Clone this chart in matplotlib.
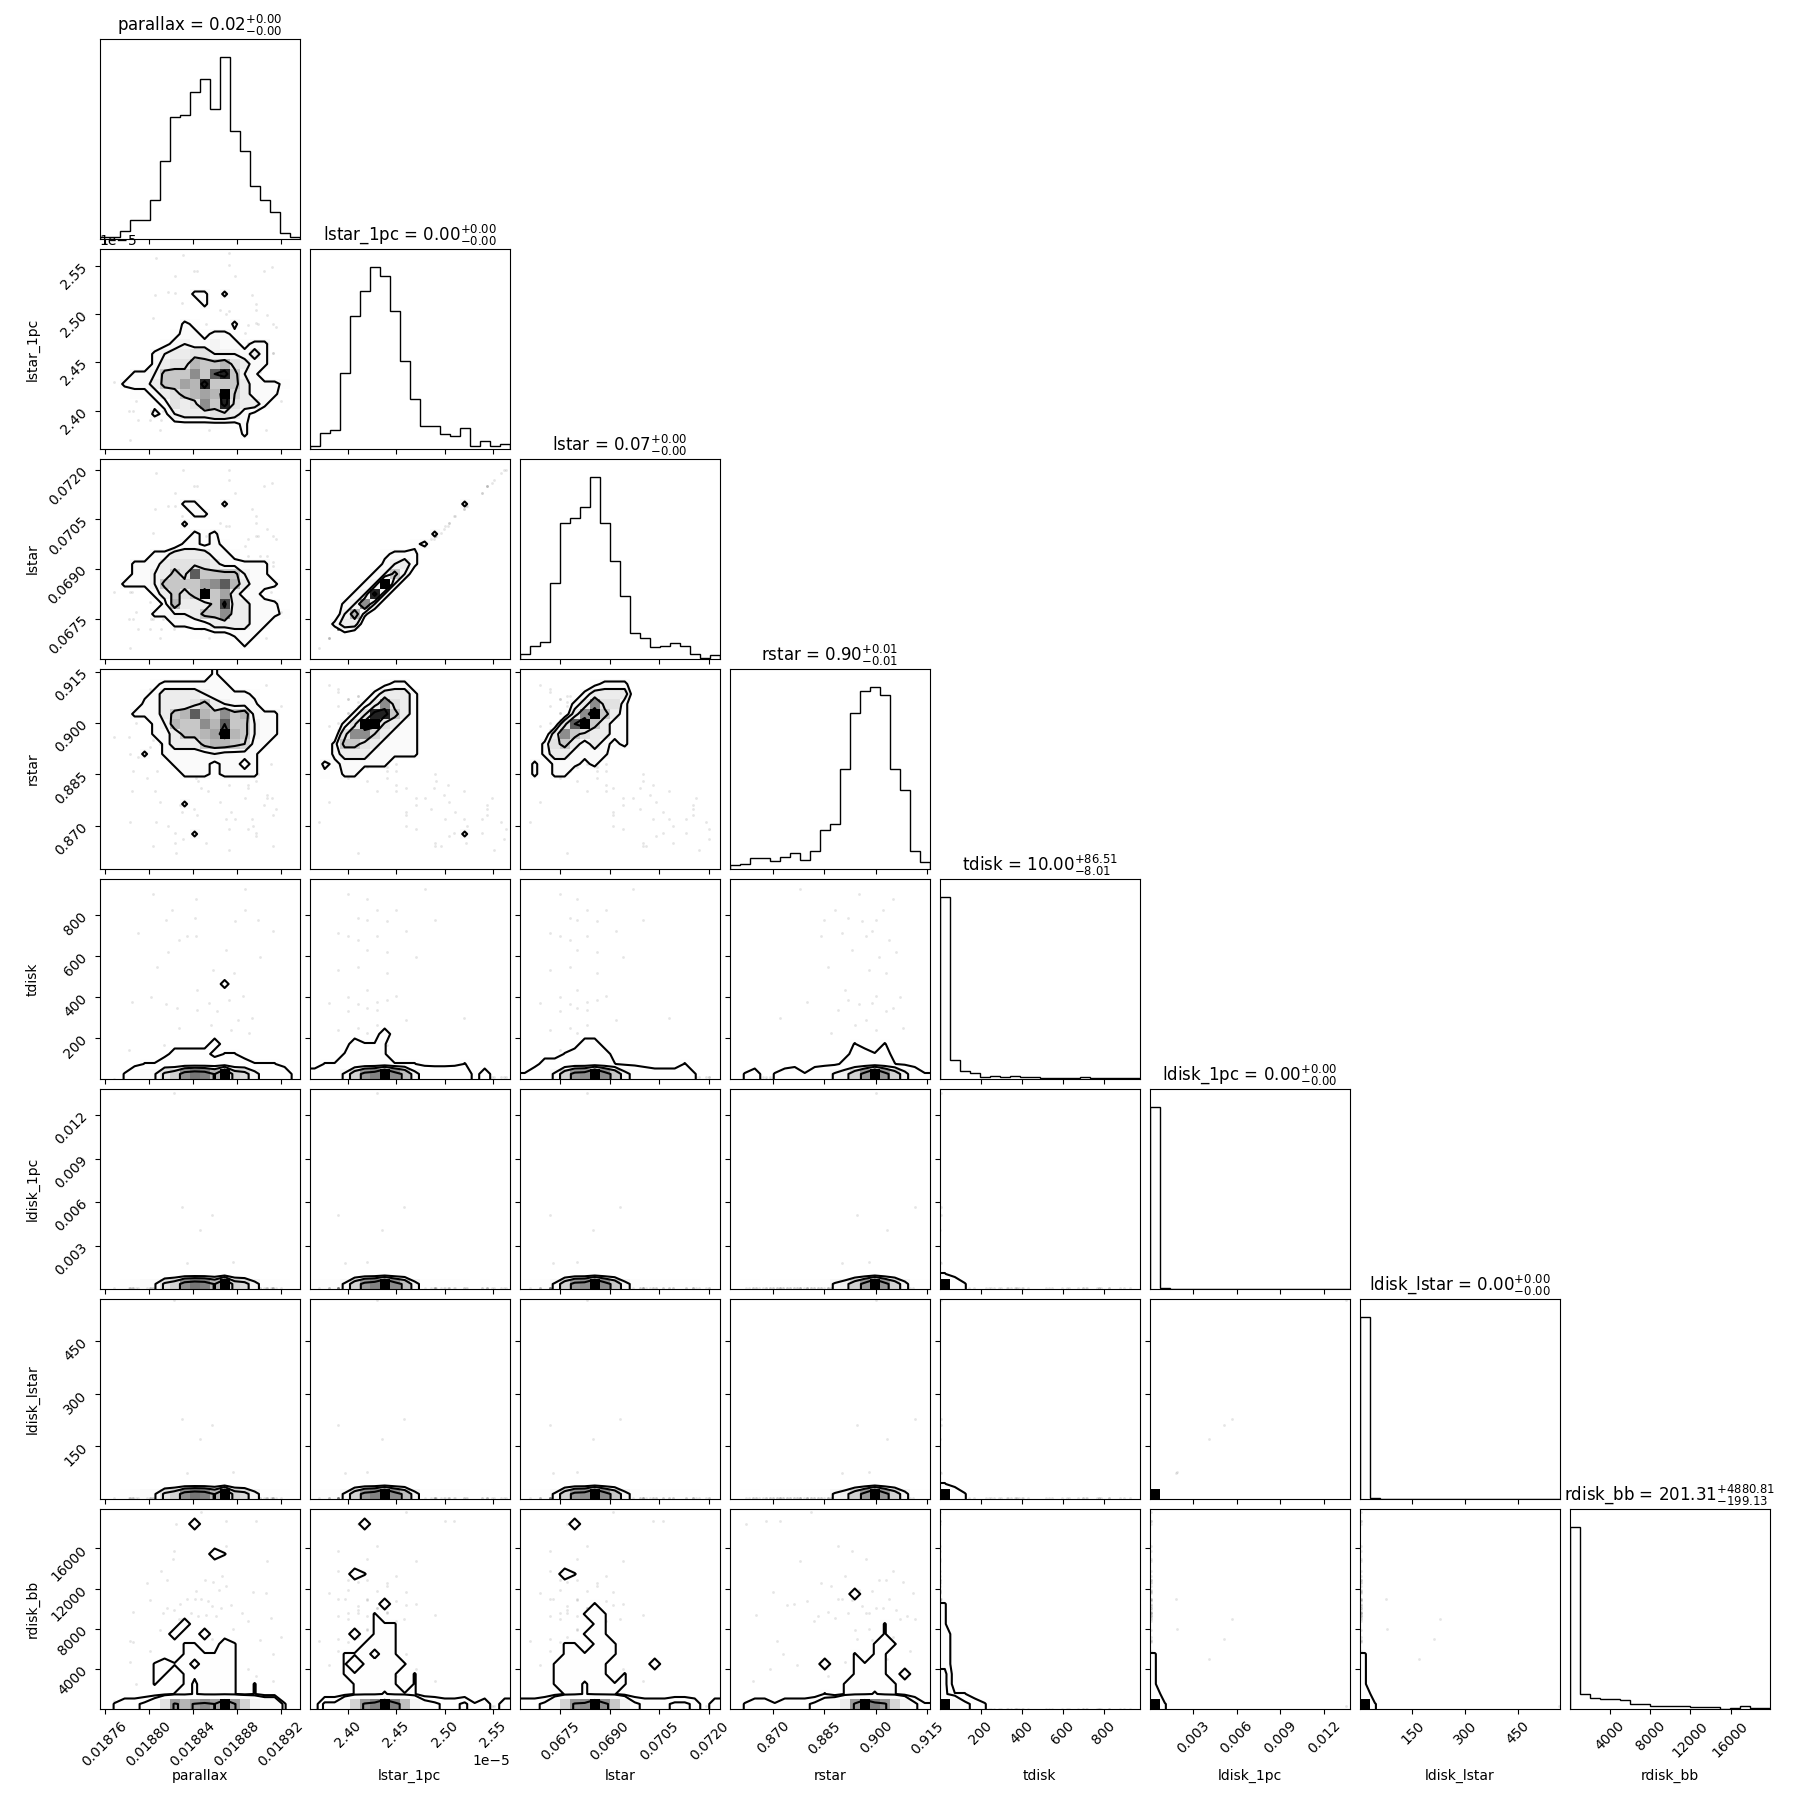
import numpy as np
import matplotlib
matplotlib.use("Agg")
import matplotlib.pyplot as plt
from matplotlib.colors import LinearSegmentedColormap
from matplotlib.ticker import NullFormatter

###########################
#
#   Parameters
#
##########################
NAMES = ["parallax", "lstar_1pc", "lstar", "rstar", "tdisk", "ldisk_1pc", "ldisk_lstar", "rdisk_bb"]
TITLES = [
    r"parallax = ${0.02}_{-0.00}^{+0.00}$",
    r"lstar_1pc = ${0.00}_{-0.00}^{+0.00}$",
    r"lstar = ${0.07}_{-0.00}^{+0.00}$",
    r"rstar = ${0.90}_{-0.01}^{+0.01}$",
    r"tdisk = ${10.00}_{-8.01}^{+86.51}$",
    r"ldisk_1pc = ${0.00}_{-0.00}^{+0.00}$",
    r"ldisk_lstar = ${0.00}_{-0.00}^{+0.00}$",
    r"rdisk_bb = ${201.31}_{-199.13}^{+4880.81}$",
]
RANGES = [
    (0.0187555, 0.0189373), (2.3603e-5, 2.5672e-5), (0.06628, 0.07232), (0.85734, 0.91578),
    (0.0, 975.6), (0.00002, 0.0138), (0.35, 570.0), (2.0, 19930.0),
]
TICKS = [
    [0.01876, 0.01880, 0.01884, 0.01888, 0.01892],
    [2.40e-5, 2.45e-5, 2.50e-5, 2.55e-5],
    [0.0675, 0.0690, 0.0705, 0.0720],
    [0.870, 0.885, 0.900, 0.915],
    [200, 400, 600, 800],
    [0.003, 0.006, 0.009, 0.012],
    [150, 300, 450],
    [4000, 8000, 12000, 16000],
]

###########################
#
#   1d histograms (20 bins each)
#
##########################
HIST_PARALLAX = [6, 6, 25, 58, 58, 117, 234, 366, 372, 441, 480, 390, 546, 324, 264, 159, 117, 82, 18, 6]
HIST_LSTAR1PC = [10, 48, 57, 228, 399, 474, 546, 519, 414, 264, 150, 69, 69, 45, 39, 63, 9, 24, 9, 15]
HIST_LSTAR = [15, 39, 51, 228, 408, 423, 456, 546, 408, 294, 189, 78, 63, 36, 39, 48, 39, 15, 3, 11]
HIST_RSTAR = [11, 15, 33, 33, 24, 36, 48, 27, 54, 117, 135, 300, 468, 534, 546, 522, 300, 237, 54, 21]
HIST_TDISK = [546, 57, 24, 18, 6, 9, 6, 9, 6, 6, 3, 3, 3, 3, 6, 3, 3, 2, 2, 4]
HIST_LDISK1PC = [546, 4, 1, 1, 1, 0, 0, 0, 0, 0, 0, 0, 0, 0, 0, 0, 0, 0, 0, 0]
HIST_LDISKLSTAR = [546, 4, 1, 1, 1, 0, 0, 0, 0, 0, 0, 0, 0, 0, 0, 0, 0, 0, 0, 0]
HIST_RDISK = [546, 45, 33, 30, 30, 27, 16, 16, 9, 9, 9, 9, 6, 6, 6, 1, 3, 9, 3, 3]
HISTS = [HIST_PARALLAX, HIST_LSTAR1PC, HIST_LSTAR, HIST_RSTAR, HIST_TDISK, HIST_LDISK1PC, HIST_LDISKLSTAR, HIST_RDISK]

###########################
#
#   2d histograms, row index from the top of the panel, hex digit per bin
#
##########################
H_10 = {
    4: "00000000022020000000", 5: "00000000002000000000", 7: "00000000210002000000",
    8: "00000001221221000000", 9: "00000012322322122000", 10: "00000234455333242000",
    11: "00000245587785422000", 12: "000223777a7ce7320000", 13: "0022247798e777422210",
    14: "000112457898f6422200", 15: "0000012545a7e5442000", 16: "00000213444554210000",
    17: "00000001111111200000", 18: "00000000000000200000",
}
H_20 = {
    4: "00000000220020000000", 5: "00000000022000000000", 6: "00000000200000000000",
    7: "00000000021200000000", 8: "00000000221210000000", 9: "00000224444221000000",
    10: "00022245555422222000", 11: "000223475c7777322000", 12: "00222377779ac8422200",
    13: "0000024757f794221000", 14: "000000284447d4422200", 15: "000002233477a4422210",
    16: "00000002222444422000", 17: "00000000011112220000", 18: "00000000000000200000",
}
H_30 = {
    0: "00000000000200000000", 1: "00000122222220000000", 2: "00001244443222210000",
    3: "00002244457432220000", 4: "000222478c87a7822200", 5: "0000023877a8c7732200",
    6: "000002247789f8732200", 7: "00000024447887622000", 8: "00002022222322220000",
    9: "00000002222122120000", 10: "00000000222122220000", 13: "00000000200000000000",
    16: "00000000020000000000",
}
H_21 = {
    4: "00000000000000020000", 7: "00000000000020000000", 8: "00000000001200000000",
    9: "00000001222000000000", 10: "00000002342000000000", 11: "00000023730000000000",
    12: "0000023f300000000000", 13: "000023e3000000000000", 14: "00023a30000000000000",
    15: "00038200000000000000", 16: "00244000000000000000", 17: "00010000000000000000",
}
H_31 = {
    1: "00000001220000000000", 2: "00000024442000000000", 3: "0000024a542000000000",
    4: "000025ee742000000000", 5: "00025ff5422000000000", 6: "0005aa64222000000000",
    7: "00277542222000000000", 8: "00244422222000000000", 9: "02122222000000000000",
    10: "01022000000000000000", 16: "00000000000000020000",
}
H_32 = {
    1: "00000001222000000000", 2: "00000024444000000000", 3: "0000024a552000000000",
    4: "000004af742000000000", 5: "00005cf7422000000000", 6: "0004a754422000000000",
    7: "00257424212000000000", 8: "00244222200000000000", 9: "02022212000000000000",
    10: "02022000000000000000",
}

# bottom row of bins holds most of the samples once tdisk or rdisk is on the y axis
LOW_PARALLAX = [0, 0, 1, 4, 8, 8, 20, 25, 40, 44, 42, 32, 60, 25, 22, 12, 5, 4, 3, 0]
LOW_LSTAR1PC = [2, 4, 5, 10, 25, 38, 42, 60, 40, 30, 12, 5, 4, 4, 5, 3, 0, 2, 0, 0]
LOW_LSTAR = [1, 3, 5, 10, 25, 38, 40, 60, 40, 28, 12, 6, 3, 2, 2, 2, 3, 1, 0, 0]
LOW_RSTAR = [0, 1, 2, 0, 1, 2, 3, 1, 3, 5, 10, 14, 25, 38, 60, 38, 25, 12, 3, 1]
LOW_RD_PARALLAX = [0, 1, 2, 2, 3, 6, 20, 38, 32, 37, 40, 36, 60, 37, 25, 12, 8, 8, 1, 0]
LOW_RD_LSTAR1PC = [0, 3, 3, 10, 25, 38, 42, 60, 42, 30, 12, 4, 3, 2, 2, 3, 1, 2, 0, 2]
LOW_RD_LSTAR = [2, 2, 3, 10, 25, 38, 40, 60, 40, 28, 12, 3, 2, 2, 2, 3, 3, 2, 0, 2]
LOW_RD_RSTAR = [0, 1, 2, 2, 1, 2, 2, 2, 3, 5, 8, 16, 38, 60, 42, 38, 24, 12, 3, 1]
LOW_CORNER = [60, 3, 1, 0, 0, 0, 0, 0, 0, 0, 0, 0, 0, 0, 0, 0, 0, 0, 0, 0]
LOW_CORNER_RD = [60, 10, 3, 2, 1, 0, 0, 0, 0, 0, 0, 0, 0, 0, 0, 0, 0, 0, 0, 0]
LOW_EDGE_RD = [60, 1, 0, 0, 0, 0, 0, 0, 0, 0, 0, 0, 0, 0, 0, 0, 0, 0, 0, 0]
LOW_BLACK = [60, 0, 0, 0, 0, 0, 0, 0, 0, 0, 0, 0, 0, 0, 0, 0, 0, 0, 0, 0]
LONE_TDISK = [0, 0, 0, 0, 0, 0, 0, 0, 0, 0, 0, 0, 1.5, 0, 0, 0, 0, 0, 0, 0]

H_40 = {10: LONE_TDISK, 16: "00000000000200000000", 17: "00000002222011000000",
        18: "00001132222322211100", 19: LOW_PARALLAX}
H_41 = {15: "00000002000000000000", 16: "00002111000000000000", 17: "00011111000000000000",
        18: "01111111111000010000", 19: LOW_LSTAR1PC}
H_42 = {16: "00000022000000000000", 17: "00001222200000000000",
        18: "00222222210000001000", 19: LOW_LSTAR}
H_43 = {16: "00000000000010010000", 17: "00000000000022120000",
        18: "00000000000222221000", 19: LOW_RSTAR}
H_LOW0 = {19: LOW_PARALLAX}
H_LOW1 = {19: LOW_LSTAR1PC}
H_LOW2 = {19: LOW_LSTAR}
H_LOW3 = {19: LOW_RSTAR}
H_CORNER = {18: "10000000000000000000", 19: LOW_CORNER}
H_BLACK = {19: LOW_BLACK}

H_70 = {
    1: "00000000020000000000", 4: "00000000000210000000", 11: "00000000200000000000",
    12: "00000002002000000000", 13: "00000000110021000000", 14: "00000000121111000000",
    15: "00000121202111000000", 16: "00000110121111000000", 17: "00000100131111010000",
    18: "00000001131111010000", 19: LOW_RD_PARALLAX,
}
H_71 = {
    1: "00000200000000000000", 6: "00002100000000000000", 9: "00000002000000000000",
    10: "00000010000000000000", 11: "00000011100000000000", 12: "00002011100000000000",
    13: "00000121100000000000", 14: "00011202100000000000", 15: "00010121110000000000",
    16: "00011111101000000000", 17: "00001111101000000000", 18: "00001113111000000000",
    19: LOW_RD_LSTAR1PC,
}
H_72 = {
    1: "00000200000000000000", 6: "00002100000000000000", 9: "00000001000000000000",
    10: "00000011100000000000", 11: "00000001100000000000", 12: "00000011100000000000",
    13: "00001101110000000000", 14: "00001111110000000000", 15: "00011111100002000000",
    16: "00011111101000000000", 17: "00011131111000000000", 18: "00001131110000000000",
    19: LOW_RD_LSTAR,
}
H_73 = {
    8: "00000000000020000000", 11: "00000000000000010000", 12: "00000000000000010000",
    13: "00000000000000111000", 14: "00000000000010110000", 15: "00000000020011110000",
    16: "00000000000011110200", 17: "00000000000111111000", 18: "00000000010111311000",
    19: LOW_RD_RSTAR,
}
H_74 = {
    9: "10000000000000000000", 10: "10000000000000000000", 11: "10000000000000000000",
    12: "20000000000000000000", 13: "20000000000000000000", 14: "20000000000000000000",
    15: "20000000000000000000", 16: "30000000000000000000", 17: "30000000000000000000",
    18: "31100000000000000000", 19: LOW_CORNER_RD,
}
H_75 = {
    14: "10000000000000000000", 15: "10000000000000000000", 16: "10000000000000000000",
    17: "10000000000000000000", 18: "20000000000000000000", 19: LOW_EDGE_RD,
}

LEVELS_CORE = [1.5, 3, 6, 12]
LEVELS_TDISK = [0.9, 9, 18, 33]
LEVELS_LDISK = [9, 18, 33]
LEVELS_RDISK = [0.9, 2.5, 36]
LEVELS_CORNER = [0.9, 45]
LEVELS_CORNER_RD = [0.9, 2.5, 45]
LEVELS_BLACK = [45]

PANELS = {
    (1, 0): (H_10, LEVELS_CORE),
    (2, 0): (H_20, LEVELS_CORE), (2, 1): (H_21, LEVELS_CORE),
    (3, 0): (H_30, LEVELS_CORE), (3, 1): (H_31, LEVELS_CORE), (3, 2): (H_32, LEVELS_CORE),
    (4, 0): (H_40, LEVELS_TDISK), (4, 1): (H_41, LEVELS_TDISK), (4, 2): (H_42, LEVELS_TDISK), (4, 3): (H_43, LEVELS_TDISK),
    (5, 0): (H_LOW0, LEVELS_LDISK), (5, 1): (H_LOW1, LEVELS_LDISK), (5, 2): (H_LOW2, LEVELS_LDISK), (5, 3): (H_LOW3, LEVELS_LDISK),
    (5, 4): (H_CORNER, LEVELS_CORNER),
    (6, 0): (H_LOW0, LEVELS_LDISK), (6, 1): (H_LOW1, LEVELS_LDISK), (6, 2): (H_LOW2, LEVELS_LDISK), (6, 3): (H_LOW3, LEVELS_LDISK),
    (6, 4): (H_CORNER, LEVELS_CORNER), (6, 5): (H_BLACK, LEVELS_BLACK),
    (7, 0): (H_70, LEVELS_RDISK), (7, 1): (H_71, LEVELS_RDISK), (7, 2): (H_72, LEVELS_RDISK), (7, 3): (H_73, LEVELS_RDISK),
    (7, 4): (H_74, LEVELS_CORNER_RD), (7, 5): (H_75, LEVELS_CORNER), (7, 6): (H_75, LEVELS_CORNER),
}

###########################
#
#   Outlying samples, drawn as faint dots. Four groups in the same order in
#   every column: hot disk, large radius, bright star tail, bright disk
#
##########################
S_PARALLAX = [
    0.018804, 0.018843, 0.018821, 0.018888, 0.018888, 0.018816, 0.018842, 0.018879, 0.018899, 0.018913,
    0.018790, 0.018828, 0.018835, 0.018843, 0.018818, 0.018870, 0.018901, 0.018808, 0.018859, 0.018878,
    0.018844, 0.018802, 0.018886, 0.018785, 0.018816, 0.018855, 0.018873, 0.018826, 0.018844, 0.018862,
    0.018881, 0.018894, 0.018828, 0.018857, 0.018875, 0.018891, 0.018814, 0.018782,
    0.018825, 0.018848, 0.018870, 0.018898, 0.018823, 0.018822, 0.018870, 0.018908, 0.018811, 0.018817,
    0.018799, 0.018851, 0.018867, 0.018843, 0.018859, 0.018870, 0.018864, 0.018895, 0.018907, 0.018801,
    0.018817, 0.018823, 0.018786, 0.018813, 0.018829, 0.018842, 0.018848, 0.018854, 0.018858, 0.018866,
    0.018875, 0.018828, 0.018839, 0.018845, 0.018852, 0.018861, 0.018885, 0.018890, 0.018911, 0.018783,
    0.018786, 0.018810, 0.018901, 0.018913, 0.018920, 0.018801, 0.018783, 0.018810, 0.018890, 0.018898,
    0.018789, 0.018913, 0.018769,
    0.018807, 0.018831, 0.018873, 0.018841, 0.018844, 0.018873, 0.018912, 0.018824, 0.018879, 0.018905,
    0.018806, 0.018818, 0.018824, 0.018830, 0.018873, 0.018865, 0.018898, 0.018908, 0.018804, 0.018890,
    0.018898, 0.018916,
    0.018830, 0.018858, 0.018847, 0.018835, 0.018877, 0.018823,
]
S_LSTAR1PC = [
    2.40, 2.42, 2.45, 2.48, 2.43, 2.42, 2.41, 2.44, 2.49, 2.46, 2.39, 2.41, 2.43, 2.40, 2.44, 2.42, 2.47, 2.41, 2.39,
    2.44, 2.42, 2.40, 2.45, 2.43, 2.41, 2.38, 2.44, 2.42, 2.43, 2.40, 2.46, 2.52, 2.41, 2.43, 2.39, 2.42, 2.44, 2.40,
    2.41, 2.46, 2.50, 2.51, 2.39, 2.42, 2.43, 2.47, 2.39, 2.40, 2.44, 2.42, 2.45, 2.43, 2.41, 2.44, 2.40, 2.46,
    2.38, 2.42, 2.43, 2.41, 2.44, 2.40, 2.47, 2.42, 2.39, 2.45, 2.41, 2.43, 2.46, 2.40, 2.44, 2.42, 2.49, 2.39,
    2.41, 2.45, 2.43, 2.37, 2.40, 2.42, 2.44, 2.46, 2.41, 2.39, 2.43, 2.38, 2.47, 2.45, 2.41, 2.49, 2.43,
    2.558, 2.561, 2.563, 2.544, 2.544, 2.551, 2.549, 2.539, 2.539, 2.544, 2.520, 2.523, 2.522, 2.511, 2.503,
    2.504, 2.504, 2.499, 2.496, 2.489, 2.491, 2.486,
    2.458, 2.39, 2.435, 2.397, 2.42, 2.43,
]
S_LSTAR = [
    .0675, .0680, .0689, .0697, .0683, .0680, .0678, .0686, .0700, .0692, .0672, .0678, .0683, .0675, .0686, .0680,
    .0694, .0678, .0672, .0686, .0680, .0675, .0689, .0683, .0678, .0669, .0686, .0680, .0683, .0675, .0692, .0708,
    .0678, .0683, .0672, .0680, .0686, .0675,
    .0677, .0691, .0703, .0706, .0672, .0680, .0683, .0694, .0672, .0675, .0686, .0680, .0689, .0683, .0677, .0686,
    .0675, .0691, .0669, .0680, .0683, .0677, .0686, .0675, .0694, .0680, .0672, .0689, .0677, .0683, .0691, .0675,
    .0686, .0680, .0700, .0672, .0677, .0689, .0683, .0666, .0675, .0680, .0686, .0691, .0677, .0672, .0683, .0669,
    .0694, .0689, .0677, .0700, .0683,
    .0719, .0720, .0720, .0715, .0715, .0717, .0716, .0713, .0713, .0715, .0708, .0709, .0709, .0706, .0703, .0704,
    .0704, .0702, .0701, .0699, .0700, .0699,
    .0693, .0672, .0685, .0673, .0680, .0683,
]
S_RSTAR = [
    .895, .905, .888, .878, .902, .900, .892, .896, .885, .899, .890, .904, .897, .884, .906, .893, .901, .886, .898,
    .903, .891, .907, .900, .880, .895, .899, .892, .905, .889, .903, .897, .872, .908, .894, .900, .887, .902, .896,
    .862, .881, .872, .868, .893, .897, .889, .878, .905, .901, .884, .903, .891, .899, .908, .887, .895, .870, .911,
    .893, .902, .906, .886, .898, .876, .904, .889, .880, .896, .900, .874, .907, .892, .883, .865, .909, .897, .882,
    .888, .871, .903, .894, .899, .873, .905, .910, .891, .877, .869, .886, .900, .864, .896,
    .871, .866, .869, .875, .873, .863, .878, .868, .872, .876, .880, .870, .865, .874, .882, .877, .867, .879, .864,
    .881, .883, .875,
    .9116, .8945, .9034, .890, .898, .900,
]
S_TDISK = (
    [900, 878, 826, 927, 823, 774, 785, 769, 774, 720, 712, 676, 699, 699, 618, 631, 595, 546, 533, 517,
     432, 400, 406, 375, 366, 371, 384, 346, 335, 330, 289, 297, 249, 265, 241, 224, 167, 143]
    + [1.5] * 53 + [10.0] * 22 + [4, 4, 3, 4, 3, 5]
)
S_LDISK1PC = [0.00008] * 113 + [0.0057, 0.0051, 0.0041, 0.0018, 0.0019, 0.0135]
S_LDISKLSTAR = [3.0] * 113 + [229, 210, 170, 75, 78, 566]
S_RDISK = (
    [1.0] * 38
    + [18460, 19590, 18690, 18690, 15700, 14940, 16270, 14710, 13710, 12880, 12550, 12880, 13280, 11720, 12620,
       12280, 11890, 11620, 11550, 10890, 10060, 9890, 9630, 9560, 10490, 10960, 10960, 10720, 10230, 10060,
       10390, 8960, 9560, 9300, 9400, 9230, 9560, 8730, 9060, 6740, 6640, 7900, 6910, 5510, 7170, 5810, 4680,
       4420, 3980, 3320, 2490, 2760, 830]
    + [300.0] * 22 + [9000, 7000, 5000, 11000, 8000, 300]
)
SAMPLES = [S_PARALLAX, np.array(S_LSTAR1PC) * 1e-5, S_LSTAR, S_RSTAR, S_TDISK, S_LDISK1PC, S_LDISKLSTAR, S_RDISK]

density_cmap = LinearSegmentedColormap.from_list("density_cmap", [(1, 1, 1, 0), (0, 0, 0, 1)])


def build_grid(rows):
    H = np.zeros((20, 20))
    for r, values in rows.items():
        if isinstance(values, str):
            values = [int(ch, 16) for ch in values]
        H[19 - r, :] = values
    return H


def plot_2d(ax, x, y, x_range, y_range, rows, levels):
    # dots first, then white under the outer contour, the bins, the contour lines
    ax.plot(x, y, "o", color="k", ms=2.0, mec="none", alpha=0.1, zorder=-1)

    H = build_grid(rows)
    x_edges = np.linspace(x_range[0], x_range[1], 21)
    y_edges = np.linspace(y_range[0], y_range[1], 21)
    x_mid = 0.5 * (x_edges[1:] + x_edges[:-1])
    y_mid = 0.5 * (y_edges[1:] + y_edges[:-1])
    dx = x_edges[1] - x_edges[0]
    dy = y_edges[1] - y_edges[0]

    # extend by one copied bin and one empty bin so contours close outside the axes
    H2 = np.pad(np.pad(H, 1, mode="edge"), 1, mode="constant")
    X2 = np.concatenate([x_mid[0] + np.array([-2, -1]) * dx, x_mid, x_mid[-1] + np.array([1, 2]) * dx])
    Y2 = np.concatenate([y_mid[0] + np.array([-2, -1]) * dy, y_mid, y_mid[-1] + np.array([1, 2]) * dy])

    ax.contourf(X2, Y2, H2, [levels[0], H.max()], colors="white", antialiased=False)
    ax.pcolormesh(x_edges, y_edges, H, cmap=density_cmap, vmin=0, vmax=H.max())
    ax.contour(X2, Y2, H2, levels, colors="k", linewidths=1.5)


###########################
#
#   main figure
#
##########################
n = len(NAMES)
fig, axes = plt.subplots(n, n, figsize=(18.09, 18.09), dpi=100)
fig.subplots_adjust(left=99.6 / 1809, right=1770 / 1809, bottom=1 - 1709 / 1809, top=1 - 39 / 1809,
                    wspace=0.05, hspace=0.05)

for i in range(n):
    for j in range(n):
        ax = axes[i, j]
        if j > i:
            ax.set_frame_on(False)
            ax.set_xticks([])
            ax.set_yticks([])
            continue

        if i == j:
            edges = np.linspace(RANGES[j][0], RANGES[j][1], 21)
            ax.stairs(HISTS[j], edges, color="k", linewidth=1.0)
            ax.set_ylim(0, 1.1 * max(HISTS[j]))
            ax.set_yticks([])
            ax.set_title(TITLES[j], fontsize=12)
        else:
            rows, levels = PANELS[(i, j)]
            plot_2d(ax, SAMPLES[j], SAMPLES[i], RANGES[j], RANGES[i], rows, levels)
            ax.set_yticks(TICKS[i])
            ax.set_ylim(RANGES[i])

        ax.set_xticks(TICKS[j])
        ax.set_xlim(RANGES[j])

        if i == n - 1:
            ax.tick_params(axis="x", labelrotation=45)
            ax.set_xlabel(NAMES[j])
            ax.xaxis.set_label_coords(0.5, -0.3)
        else:
            ax.xaxis.set_major_formatter(NullFormatter())

        if i != j:
            if j == 0:
                ax.tick_params(axis="y", labelrotation=45)
                ax.set_ylabel(NAMES[i])
                ax.yaxis.set_label_coords(-0.3, 0.5)
            else:
                ax.yaxis.set_major_formatter(NullFormatter())

fig.savefig("out.png", dpi=100)
